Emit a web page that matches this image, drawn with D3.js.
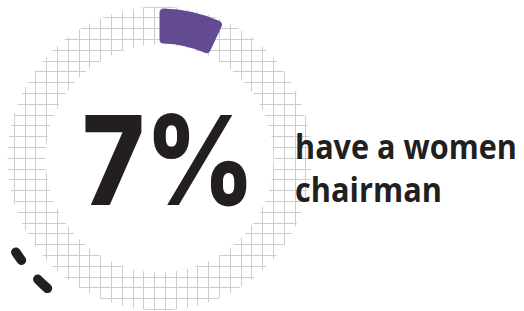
<!DOCTYPE html>
<html><head><meta charset="utf-8">
<script src="https://cdn.jsdelivr.net/npm/d3@7"></script>
<style>html,body{margin:0;padding:0;background:#fff;}svg{display:block;}</style>
</head><body>
<svg id="chart" width="524" height="311"></svg>
<script>
// Data
const categories = ["women chairman", "other"];
const values = [7, 93];
const valueLabels = ["7%"];
const captionLines = ["have a women", "chairman"];

const W = 524, H = 311;
const svg = d3.select("#chart");
const cx = 159.5, cy = 158.5;
const rIn = 114, rOut = 152;
const ink = "#231f20";

// Angle scale
const total = d3.sum(values);
const angle = d3.scaleLinear().domain([0, total]).range([0, 2 * Math.PI]);

// Grid ring, clipped to an annulus
const ringArc = d3.arc().innerRadius(rIn).outerRadius(rOut);
svg.append("clipPath").attr("id", "ringClip")
  .append("path")
  .attr("transform", `translate(${cx},${cy})`)
  .attr("d", ringArc({ startAngle: 0, endAngle: 2 * Math.PI }));

const step = 10.8, gx0 = 3.5, gy0 = 7;
const xs = d3.range(gx0, W, step), ys = d3.range(gy0 - step, H + step, step);
const gridG = svg.append("g").attr("clip-path", "url(#ringClip)");
gridG.append("path")
  .attr("d", xs.map(x => `M${x},0V${H}`).join("") + ys.map(y => `M0,${y}H${W}`).join(""))
  .attr("stroke", "#cdcdcd").attr("stroke-width", 1).attr("fill", "none")
  .attr("shape-rendering", "crispEdges");

// Purple arc
const g = svg.append("g").attr("transform", `translate(${cx},${cy})`);
const arc = d3.arc().innerRadius(115).outerRadius(150).cornerRadius(4);
g.append("path")
  .attr("d", arc({ startAngle: 0, endAngle: angle(values[0]) }))
  .attr("fill", "#634b91");

// Decorative dashes
const dashLine = d3.lineRadial().angle(d => d * Math.PI / 180).radius(171.5);
[[220.8, 225.2], [233.6, 236.9]].forEach(d => {
  g.append("path")
    .attr("d", dashLine(d3.range(d[0], d[1] + 0.01, (d[1] - d[0]) / 4)))
    .attr("fill", "none").attr("stroke", ink).attr("stroke-width", 9.5)
    .attr("stroke-linecap", "round");
});

// Big value
svg.append("text")
  .attr("x", 82).attr("y", 205)
  .attr("font-family", "Inter").attr("font-weight", 800).attr("font-size", 124)
  .attr("fill", ink)
  .attr("textLength", 173).attr("lengthAdjust", "spacingAndGlyphs")
  .text(valueLabels[0]);

// Caption
const capLens = [222, 147];
captionLines.forEach((t, i) => {
  svg.append("g")
    .attr("transform", `translate(295,${159 + i * 43}) scale(1,1.1)`)
    .append("text")
    .attr("x", 0).attr("y", 0)
    .attr("font-family", "Open Sans").attr("font-weight", 700).attr("font-size", 31)
    .attr("fill", ink)
    .attr("textLength", capLens[i]).attr("lengthAdjust", "spacingAndGlyphs")
    .text(t);
});
</script>
</body></html>
